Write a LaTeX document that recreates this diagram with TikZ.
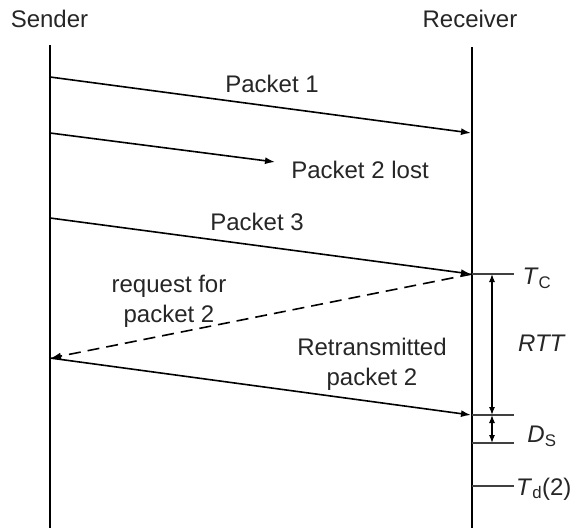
\documentclass[tikz,border=0pt]{standalone}
\usepackage{fontspec}
\setmainfont{Liberation Sans}
\usetikzlibrary{arrows.meta}
\begin{document}
\begin{tikzpicture}[x=1pt,y=-1pt,
  life/.style={line width=2.6pt},
  msg/.style={line width=1.6pt,-{Latex[length=10pt,width=7pt]}},
  tick/.style={line width=1.3pt,black!75},
  lbl/.style={font=\fontsize{24}{30}\selectfont,inner sep=0pt,align=center,text=black!85},
  dim/.style={line width=1.2pt,{Latex[length=8pt,width=6pt]}-{Latex[length=8pt,width=6pt]}}]
\useasboundingbox (0,0) rectangle (571,528);
\node[lbl] (snd) at (49.5,19) {Sender};
\node[lbl] (rcv) at (470,19) {Receiver};
\coordinate (s0) at (50,45);
\coordinate (s1) at (50,528);
\coordinate (r0) at (472,47);
\coordinate (r1) at (472,528);
\draw[life] (s0) -- (s1);
\draw[life] (r0) -- (r1);
% packets
\coordinate (p1s) at (50,77);
\coordinate (p1e) at (471,133);
\draw[msg] (p1s) -- (p1e);
\node[lbl] (p1) at (272,84) {Packet 1};
\coordinate (p2s) at (50,133);
\coordinate (p2e) at (275,162);
\draw[msg] (p2s) -- (p2e);
\node[lbl] (p2) at (360,170) {Packet 2 lost};
\coordinate (p3s) at (50,218);
\coordinate (p3e) at (471,274);
\draw[msg] (p3s) -- (p3e);
\node[lbl] (p3) at (257,222) {Packet 3};
\coordinate (rqs) at (472,274);
\coordinate (rqe) at (51,358);
\draw[msg,dash pattern=on 12pt off 7pt] (rqs) -- (rqe);
\node[lbl] (rq) at (169,301) {request for\\packet 2};
\coordinate (rts) at (50,358);
\coordinate (rte) at (471,415);
\draw[msg] (rts) -- (rte);
\node[lbl] (rt) at (372,364) {Retransmitted\\packet 2};
% ticks
\coordinate (tc0) at (472,274);
\coordinate (tc1) at (514,274);
\draw[tick] (tc0) -- (tc1);
\node[lbl] (tc) at (537,278) {\textit{T}\textsubscript{C}};
\coordinate (ds0) at (472,415);
\coordinate (ds1) at (514,415);
\draw[tick] (ds0) -- (ds1);
\coordinate (de0) at (472,443);
\coordinate (de1) at (514,443);
\draw[tick] (de0) -- (de1);
\node[lbl] (ds) at (542,436) {\textit{D}\textsubscript{S}};
\coordinate (td0) at (472,486);
\coordinate (td1) at (514,486);
\draw[tick] (td0) -- (td1);
\node[lbl,anchor=west] (td) at (516,489) {\textit{T}\textsubscript{d}(2)};
% dims
\coordinate (a0) at (492,274);
\coordinate (a1) at (492,415);
\coordinate (a2) at (492,443);
\draw[dim] (a0) -- (a1);
\draw[dim] (a1) -- (a2);
\node[lbl] (rtt) at (542,343) {\textit{RTT}};
\end{tikzpicture}
\end{document}
